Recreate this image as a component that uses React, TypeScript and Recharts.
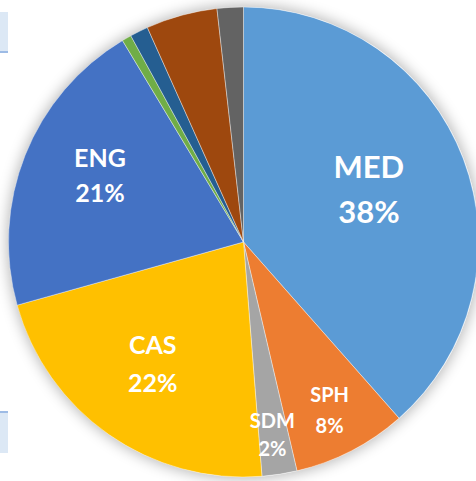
import { PieChart, Pie, Cell } from "recharts";

// share of total, read clockwise from 12 o'clock
const schools = ["MED", "SPH", "SDM", "CAS", "ENG", "SAR", "COM", "QST", "Other"];
const shares = [38.45, 7.85, 2.4, 21.9, 20.7, 0.65, 1.25, 4.9, 1.8];
const labelled = ["MED", "SPH", "SDM", "CAS", "ENG"];

const colors = ["#5B9BD5", "#ED7D31", "#A5A5A5", "#FFC000", "#4472C4", "#70AD47", "#255E91", "#9E480E", "#636363"];

const data = schools.map((name, i) => ({ name, value: shares[i] }));

const CX = 243.5;
const CY = 242;
const R = 235;
const RAD = Math.PI / 180;

// label placement: radius from centre, small angle nudge, font size, line gap
const labelStyle: Record<string, { r: number; da: number; size: number; gap: number }> = {
  MED: { r: 136, da: 2.1, size: 31, gap: 45 },
  ENG: { r: 158, da: -3, size: 25, gap: 35 },
  CAS: { r: 152, da: -1.7, size: 25, gap: 38 },
  SPH: { r: 189, da: -0.2, size: 20, gap: 31 },
  SDM: { r: 195, da: -0.3, size: 20, gap: 28 },
};

function SliceLabel(props: any) {
  const { cx, cy, midAngle, name, percent } = props;
  if (!labelled.includes(name)) return null;
  const s = labelStyle[name];
  const a = (midAngle + s.da) * RAD;
  const x = cx + s.r * Math.cos(a);
  const y = cy - s.r * Math.sin(a);
  const base = s.size * 0.36;
  return (
    <text x={x} textAnchor="middle" fill="#fff" fontFamily="Lato, 'Open Sans', sans-serif" fontWeight={700} fontSize={s.size}>
      <tspan x={x} y={y - s.gap / 2 + base}>{name}</tspan>
      <tspan x={x} y={y + s.gap / 2 + base}>{Math.round(percent * 100)}%</tspan>
    </text>
  );
}

export default function App() {
  return (
    <div style={{ position: "fixed", left: 0, top: 0, width: 476, height: 481, overflow: "hidden", background: "#fff" }}>
      <div style={{ position: "absolute", left: 0, top: 12, width: 8, height: 39, background: "#DCE8F5", borderBottom: "2px solid #9DBBE5" }} />
      <div style={{ position: "absolute", left: 0, top: 411, width: 8, height: 40, background: "#DCE8F5", borderTop: "2px solid #9DBBE5" }} />
      <div style={{ position: "absolute", left: CX - R, top: CY - R, width: R * 2, height: R * 2, borderRadius: "50%",
        boxShadow: "0 0 14px 2px rgba(0,0,0,0.28)" }} />
      <div style={{ position: "absolute", left: 0, top: 0 }}>
        <PieChart width={490} height={481} margin={{ top: 0, right: 0, bottom: 0, left: 0 }}>
          <Pie data={data} dataKey="value" nameKey="name" cx={CX} cy={CY} outerRadius={R} innerRadius={0}
            startAngle={90} endAngle={-270} stroke="#ffffff" strokeOpacity={0.5} strokeWidth={0.75}
            label={SliceLabel} labelLine={false} isAnimationActive={false}>
            {data.map((d, i) => <Cell key={d.name} fill={colors[i]} />)}
          </Pie>
        </PieChart>
      </div>
    </div>
  );
}
